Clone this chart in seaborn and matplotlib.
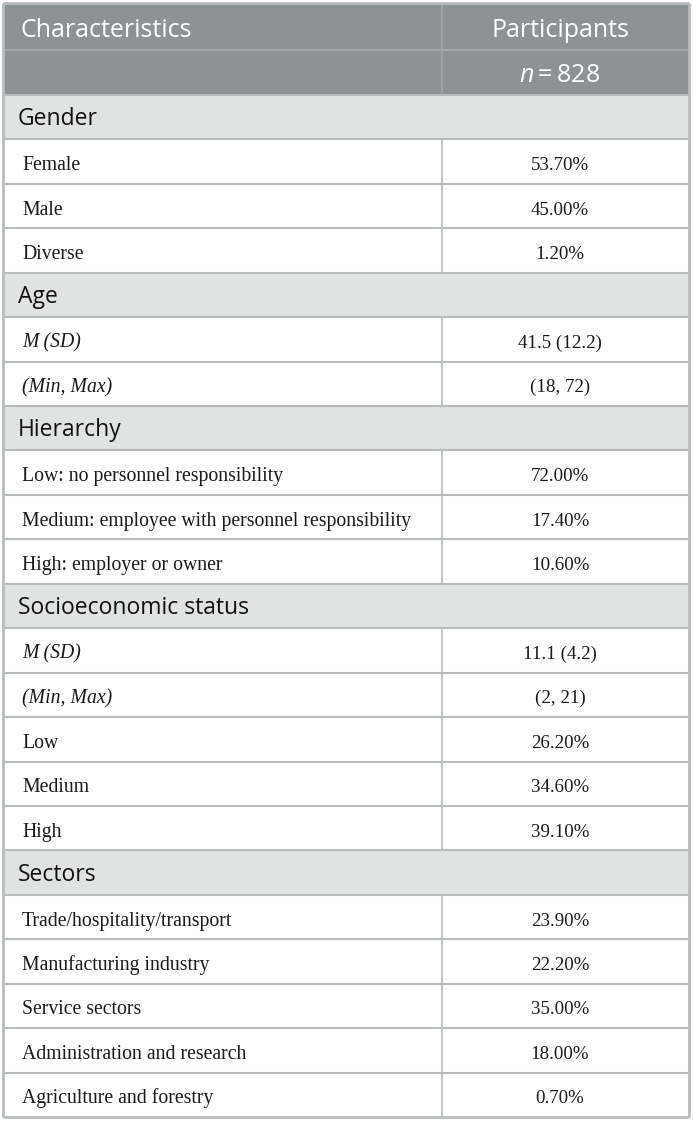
import matplotlib
matplotlib.use("Agg")
import matplotlib.pyplot as plt
import seaborn as sns
import pandas as pd

# table content
header_left = "Characteristics"
header_right = "Participants"
sample_size = "828"

sections = ["Gender", "Age", "Hierarchy", "Socioeconomic status", "Sectors"]

gender_labels = ["Female", "Male", "Diverse"]
gender_values = ["53.70%", "45.00%", "1.20%"]

age_labels = ["M (SD)", "(Min, Max)"]
age_values = ["41.5 (12.2)", "(18, 72)"]

hierarchy_labels = ["Low: no personnel responsibility",
                    "Medium: employee with personnel responsibility",
                    "High: employer or owner"]
hierarchy_values = ["72.00%", "17.40%", "10.60%"]

ses_labels = ["M (SD)", "(Min, Max)", "Low", "Medium", "High"]
ses_values = ["11.1 (4.2)", "(2, 21)", "26.20%", "34.60%", "39.10%"]

sector_labels = ["Trade/hospitality/transport", "Manufacturing industry",
                 "Service sectors", "Administration and research",
                 "Agriculture and forestry"]
sector_values = ["23.90%", "22.20%", "35.00%", "18.00%", "0.70%"]

italic_labels = ["M (SD)", "(Min, Max)"]

# build one row table
rows = [("header", header_left, header_right), ("header", "", None)]
groups = [(gender_labels, gender_values), (age_labels, age_values),
          (hierarchy_labels, hierarchy_values), (ses_labels, ses_values),
          (sector_labels, sector_values)]
for sec, (labs, vals) in zip(sections, groups):
    rows.append(("section", sec, ""))
    for l, v in zip(labs, vals):
        rows.append(("body", l, v))
df = pd.DataFrame(rows, columns=["kind", "label", "value"])

# layout (pixels)
W, H = 693, 1121
LEFT, RIGHT, SPLIT = 3, 689, 442
TOP, BOTTOM = 3, 1117
header_h = [47, 45]
body_h = (BOTTOM - TOP - sum(header_h)) / (len(df) - 2)
df["h"] = header_h + [body_h] * (len(df) - 2)
df["y0"] = TOP + df["h"].cumsum() - df["h"]
df["yc"] = df["y0"] + df["h"] / 2

fill = {"header": "#8d9294", "section": "#e1e2e2", "body": "#ffffff"}
line_col = "#b9bcbd"

sns.set_theme(style="white")
plt.rcParams["mathtext.fontset"] = "custom"
plt.rcParams["mathtext.it"] = "Open Sans:italic"
plt.rcParams["mathtext.rm"] = "Open Sans"

fig = plt.figure(figsize=(W / 100, H / 100), dpi=100)
ax = fig.add_axes([0, 0, 1, 1])
ax.set_xlim(0, W)
ax.set_ylim(H, 0)
ax.axis("off")

ax.barh(df["yc"], RIGHT - LEFT, left=LEFT, height=df["h"],
        color=[fill[k] for k in df["kind"]], edgecolor="none")

# horizontal rules
for i, r in df.iterrows():
    if i == 0:
        continue
    c = "#a3a7a9" if r["kind"] == "header" else line_col
    ax.hlines(r["y0"], LEFT, RIGHT, color=c, lw=1.5)

# column divider (not through section rows)
for _, r in df.iterrows():
    if r["kind"] == "section":
        continue
    c = "#a3a7a9" if r["kind"] == "header" else line_col
    ax.vlines(SPLIT, r["y0"], r["y0"] + r["h"], color=c, lw=1.2)

# outer border
ax.vlines([LEFT, RIGHT], TOP, BOTTOM, color=line_col, lw=2)
ax.hlines([TOP, BOTTOM], LEFT, RIGHT, color=line_col, lw=2)

xc = 560
for i, r in df.iterrows():
    if r["kind"] == "header":
        if r["label"]:
            ax.text(21, r["yc"] + 10.5, r["label"], color="white", fontsize=18,
                    family="Open Sans", va="baseline", ha="left")
        if r["value"]:
            ax.text(xc, r["yc"] + 10.5, r["value"], color="white", fontsize=18,
                    family="Open Sans", va="baseline", ha="center")
        else:
            ax.text(xc, r["yc"] + 9.5, r"$n = " + sample_size + "$", color="white",
                    fontsize=18, va="baseline", ha="center")
    elif r["kind"] == "section":
        ax.text(18, r["yc"] + 8, r["label"], color="#111111", fontsize=16.5,
                family="Open Sans", va="baseline", ha="left")
    else:
        style = "italic" if r["label"] in italic_labels else "normal"
        ax.text(22, r["yc"] + 8.5, r["label"], color="#1a1a1a", fontsize=14.2,
                family="Liberation Serif", style=style, va="baseline", ha="left")
        ax.text(xc, r["yc"] + 8.5, r["value"], color="#1a1a1a", fontsize=13.6,
                family="Liberation Serif", va="baseline", ha="center")

fig.savefig("out.png", dpi=100)
